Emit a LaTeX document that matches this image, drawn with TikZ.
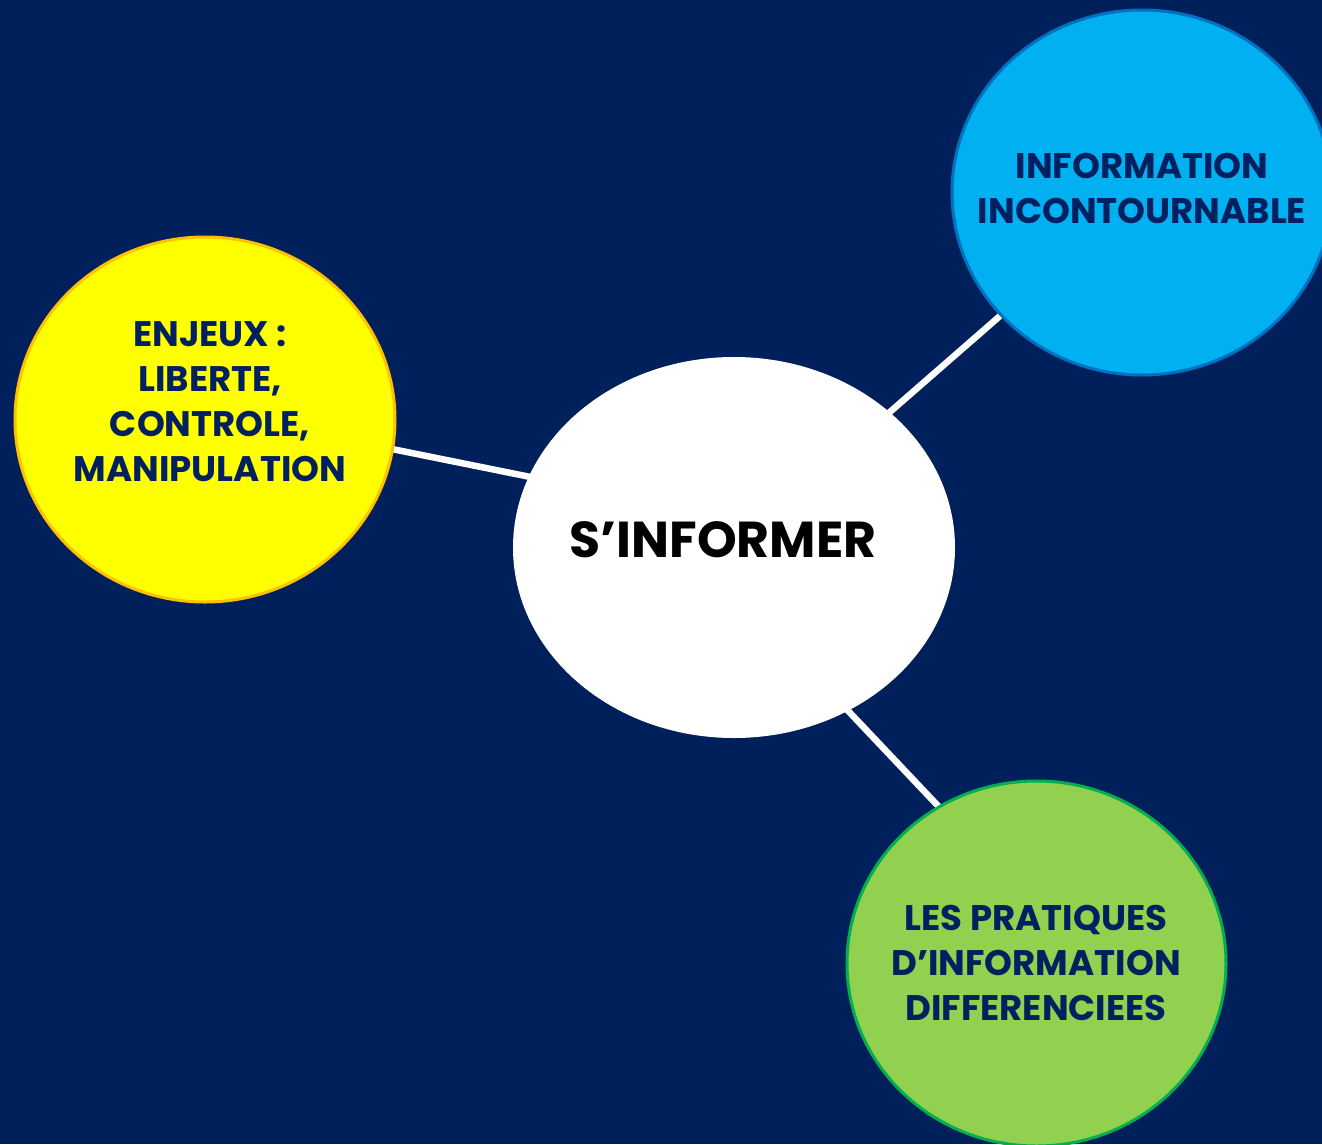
\documentclass[tikz,border=0pt]{standalone}
\usepackage{fontspec}
\setmainfont{Poppins}
\usetikzlibrary{shapes.geometric}
\definecolor{bgnavy}{HTML}{00205B}
\definecolor{txtnavy}{HTML}{002060}
\definecolor{yelfill}{HTML}{FFFF00}
\definecolor{yelline}{HTML}{FFC000}
\definecolor{bluefill}{HTML}{00B0F0}
\definecolor{blueline}{HTML}{0070C0}
\definecolor{grnfill}{HTML}{92D050}
\definecolor{grnline}{HTML}{00B050}
\pgfdeclarelayer{bglayer}
\pgfdeclarelayer{linelayer}
\pgfsetlayers{bglayer,linelayer,main}
\tikzset{
  bubble/.style={ellipse, inner sep=0pt, line width=3pt},
  conn/.style={draw=white, line width=6.5pt, shorten <=-4pt, shorten >=-4pt},
  lbl/.style={align=center, text=txtnavy, font=\fontsize{35.5}{45}\selectfont\bfseries, inner sep=0pt}
}
\begin{document}
\begin{tikzpicture}[x=1pt,y=-1pt]
\useasboundingbox (0,0) rectangle (1322,1144);
\begin{pgfonlayer}{bglayer}
\fill[bgnavy] (0,0) rectangle (1322,1144);
\end{pgfonlayer}
\node[bubble, fill=white, minimum width=442pt, minimum height=381pt] (w) at (734,547.5) {};
\node[bubble, fill=yelfill, draw=yelline, minimum width=380pt, minimum height=365pt] (y) at (205,419.5) {};
\node[bubble, fill=bluefill, draw=blueline, minimum width=380pt, minimum height=365pt] (b) at (1142,192.5) {};
\node[bubble, fill=grnfill, draw=grnline, minimum width=379pt, minimum height=365pt] (g) at (1036.5,963.5) {};
\node[inner sep=0pt, font=\fontsize{50.5}{60}\selectfont\bfseries] (wt) at (723,540) {S’INFORMER};
\node[lbl] (yt) at (210,402) {ENJEUX :\\LIBERTE,\\CONTROLE,\\MANIPULATION};
\node[lbl] (bt) at (1142,188) {INFORMATION\\INCONTOURNABLE};
\node[lbl] (gt) at (1036,963) {LES PRATIQUES\\D’INFORMATION\\DIFFERENCIEES};
\begin{pgfonlayer}{linelayer}
\draw[conn] (w.161.5) -- (y.-9);
\draw[conn] (w.41.3) -- (b.221.5);
\draw[conn] (w.-55.4) -- (g.122.2);
\end{pgfonlayer}
\end{tikzpicture}
\end{document}
